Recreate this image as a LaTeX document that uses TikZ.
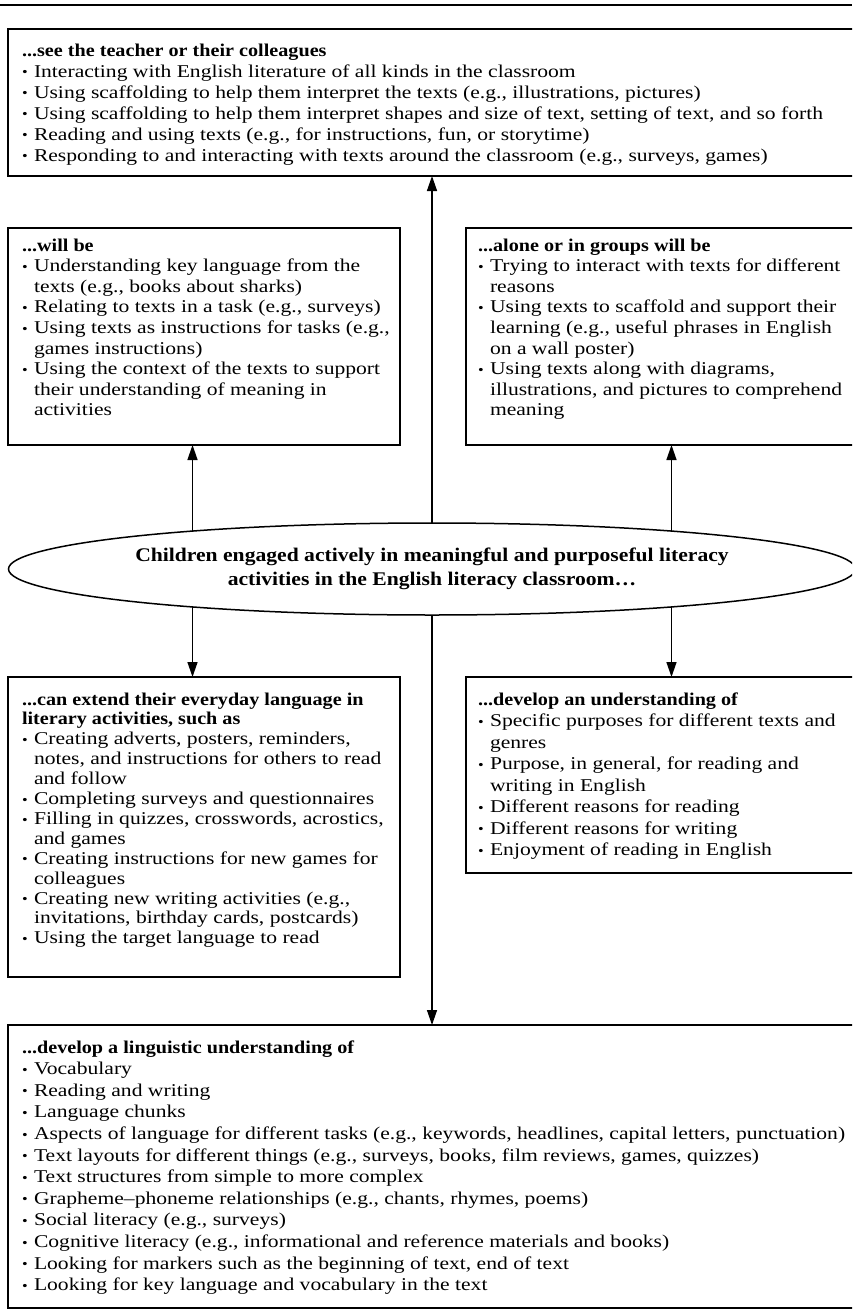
\documentclass[tikz,border=0pt]{standalone}
\usepackage{fontspec}
\usepackage{graphicx}
\setmainfont{Liberation Serif}[FakeStretch=1.2]
\newfontfamily\hdfont{Liberation Serif}[FakeStretch=1.12]
\usetikzlibrary{shapes.geometric,arrows.meta}
\newcommand{\bul}{\makebox[12pt][l]{\raisebox{0.3pt}{\scalebox{0.75}{\textbullet}}}}
\newcommand{\cont}{\hspace*{12pt}}
\newcommand{\hd}[1]{{\hdfont\bfseries #1}}
\tikzset{
  boxst/.style={draw, line width=1.7pt, rectangle, inner sep=0pt, outer sep=0pt, anchor=north west},
  txt/.style={anchor=north west, inner sep=0pt, outer sep=0pt, align=left},
  arr/.style={line width=1.4pt, -{Triangle[length=15pt,width=10pt]}},
  ellst/.style={draw, ellipse, line width=1.5pt, inner sep=0pt, outer sep=0pt,
     minimum width=847pt, minimum height=92pt, align=center,
     font=\hdfont\bfseries\fontsize{19.3}{23.5}\selectfont}
}
\begin{document}
\begin{tikzpicture}[x=1pt,y=-1pt]
\useasboundingbox (0,0) rectangle (852,1314);
\clip (0,0) rectangle (852,1314);
% top rule
\draw[line width=2pt] (0,5) -- (852,5);

% boxes
\node[boxst, minimum width=862pt, minimum height=147pt] (top) at (8,29) {};
\node[boxst, minimum width=392pt, minimum height=217pt] (ml) at (8,228) {};
\node[boxst, minimum width=404pt, minimum height=217pt] (mr) at (466,228) {};
\node[boxst, minimum width=392pt, minimum height=300pt] (ll) at (8,677) {};
\node[boxst, minimum width=404pt, minimum height=196pt] (lr) at (466,677) {};
\node[boxst, minimum width=862pt, minimum height=283pt] (bt) at (8,1025) {};

% ellipse
\node[ellst] (ell) at (432,569) {Children engaged actively in meaningful and purposeful literacy\\activities in the English literacy classroom\dots};

% texts
\node[txt, font=\fontsize{18}{21}\selectfont] (ttop) at (22,41.3) {%
\strut\hd{...see the teacher or their colleagues}\\
\strut\bul Interacting with English literature of all kinds in the classroom\\
\strut\bul Using scaffolding to help them interpret the texts (e.g., illustrations, pictures)\\
\strut\bul Using scaffolding to help them interpret shapes and size of text, setting of text, and so forth\\
\strut\bul Reading and using texts (e.g., for instructions, fun, or storytime)\\
\strut\bul Responding to and interacting with texts around the classroom (e.g., surveys, games)};

\node[txt, font=\fontsize{18}{20.6}\selectfont] (tml) at (22,236.6) {%
\strut\hd{...will be}\\
\strut\bul Understanding key language from the\\
\strut\cont texts (e.g., books about sharks)\\
\strut\bul Relating to texts in a task (e.g., surveys)\\
\strut\bul Using texts as instructions for tasks (e.g.,\\
\strut\cont games instructions)\\
\strut\bul Using the context of the texts to support\\
\strut\cont their understanding of meaning in\\
\strut\cont activities};

\node[txt, font=\fontsize{18}{20.6}\selectfont] (tmr) at (478,236.6) {%
\strut\hd{...alone or in groups will be}\\
\strut\bul Trying to interact with texts for different\\
\strut\cont reasons\\
\strut\bul Using texts to scaffold and support their\\
\strut\cont learning (e.g., useful phrases in English\\
\strut\cont on a wall poster)\\
\strut\bul Using texts along with diagrams,\\
\strut\cont illustrations, and pictures to comprehend\\
\strut\cont meaning};

\node[txt, font=\fontsize{18}{19.9}\selectfont] (tll) at (22,691.1) {%
\strut\hd{...can extend their everyday language in}\\
\strut\hd{literary activities, such as}\\
\strut\bul Creating adverts, posters, reminders,\\
\strut\cont notes, and instructions for others to read\\
\strut\cont and follow\\
\strut\bul Completing surveys and questionnaires\\
\strut\bul Filling in quizzes, crosswords, acrostics,\\
\strut\cont and games\\
\strut\bul Creating instructions for new games for\\
\strut\cont colleagues\\
\strut\bul Creating new writing activities (e.g.,\\
\strut\cont invitations, birthday cards, postcards)\\
\strut\bul Using the target language to read};

\node[txt, font=\fontsize{18}{21.5}\selectfont] (tlr) at (478,690) {%
\strut\hd{...develop an understanding of}\\
\strut\bul Specific purposes for different texts and\\
\strut\cont genres\\
\strut\bul Purpose, in general, for reading and\\
\strut\cont writing in English\\
\strut\bul Different reasons for reading\\
\strut\bul Different reasons for writing\\
\strut\bul Enjoyment of reading in English};

\node[txt, font=\fontsize{18}{21.6}\selectfont] (tbt) at (22,1037.9) {%
\strut\hd{...develop a linguistic understanding of}\\
\strut\bul Vocabulary\\
\strut\bul Reading and writing\\
\strut\bul Language chunks\\
\strut\bul Aspects of language for different tasks (e.g., keywords, headlines, capital letters, punctuation)\\
\strut\bul Text layouts for different things (e.g., surveys, books, film reviews, games, quizzes)\\
\strut\bul Text structures from simple to more complex\\
\strut\bul Grapheme–phoneme relationships (e.g., chants, rhymes, poems)\\
\strut\bul Social literacy (e.g., surveys)\\
\strut\bul Cognitive literacy (e.g., informational and reference materials and books)\\
\strut\bul Looking for markers such as the beginning of text, end of text\\
\strut\bul Looking for key language and vocabulary in the text};

% connectors
\draw[arr] (ell.north) -- (ell.north |- top.south);
\draw[arr] (ell.171.2) -- (ell.171.2 |- ml.south);
\draw[arr] (ell.9.5) -- (ell.9.5 |- mr.south);
\draw[arr] (ell.-171.2) -- (ell.-171.2 |- ll.north);
\draw[arr] (ell.-9.5) -- (ell.-9.5 |- lr.north);
\draw[arr] (ell.south) -- (ell.south |- bt.north);
\end{tikzpicture}
\end{document}
